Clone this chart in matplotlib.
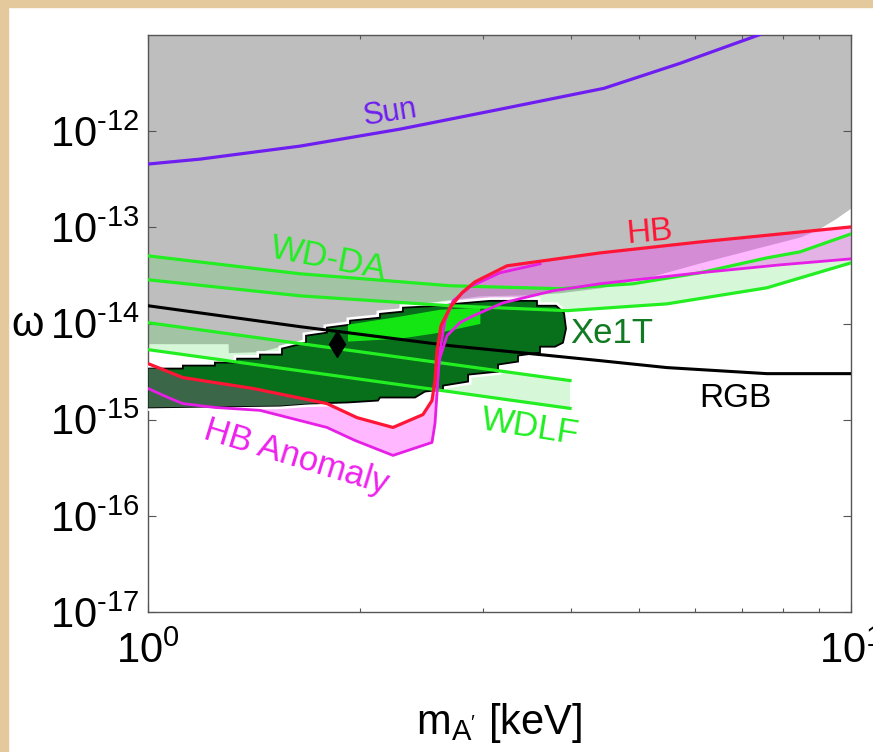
import numpy as np
import matplotlib
matplotlib.use('Agg')
import matplotlib.pyplot as plt
from matplotlib.patches import Polygon, Rectangle
from matplotlib.ticker import NullFormatter
import matplotlib.patheffects as pe

plt.rcParams['font.family'] = ['Liberation Sans', 'DejaVu Sans']
plt.rcParams['mathtext.fontset'] = 'custom'
plt.rcParams['mathtext.rm'] = 'Liberation Sans'
plt.rcParams['mathtext.it'] = 'Liberation Sans:italic'

# ---- data (m in keV, omega dimensionless) ----
sun_m = [1.0, 1.186, 1.645, 2.283, 3.168, 4.452, 5.71, 7.42]
sun_w = [4.55e-13, 5.12e-13, 6.99e-13, 1.05e-12, 1.69e-12, 2.79e-12, 5.07e-12, 1.01e-11]

# lower edge of grey excluded region
gray_m = [1.0, 1.300, 1.301, 1.443, 1.592, 1.757, 1.938, 2.124, 2.283, 2.437, 2.602, 2.967,
          3.494, 3.855, 4.395, 5.177, 6.098, 7.183, 8.463, 8.947, 9.49, 10.0]
gray_w = [6.17e-15, 6.17e-15, 4.98e-15, 5.10e-15, 6.17e-15, 7.65e-15, 9.95e-15, 1.23e-14,
          1.39e-14, 1.57e-14, 1.72e-14, 1.94e-14, 1.99e-14, 2.09e-14, 2.35e-14, 3.06e-14,
          4.27e-14, 5.83e-14, 7.95e-14, 9.40e-14, 1.22e-13, 1.59e-13]

wdda_up_m = [1.0, 1.645, 2.689, 3.855, 4.897, 6.098, 7.59, 8.463, 10.0]
wdda_up_w = [5.05e-14, 3.29e-14, 2.47e-14, 2.30e-14, 2.59e-14, 3.37e-14, 4.81e-14, 5.56e-14, 8.54e-14]
wdda_lo_m = [1.0, 1.645, 2.689, 3.945, 5.47, 7.59, 10.0]
wdda_lo_w = [2.85e-14, 1.94e-14, 1.53e-14, 1.36e-14, 1.60e-14, 2.35e-14, 4.27e-14]

wdlf_m = [1.0, 3.984]
wdlf_up_w = [1.02e-14, 2.55e-15]
wdlf_lo_w = [5.35e-15, 1.31e-15]

rgb_m = [1.0, 1.645, 2.689, 3.611, 4.395, 5.47, 7.59, 10.0]
rgb_w = [1.53e-14, 9.27e-15, 5.88e-15, 4.75e-15, 4.11e-15, 3.48e-15, 3.01e-15, 3.01e-15]

hb_m = [1.0, 1.121, 1.411, 1.797, 1.983, 2.231, 2.461, 2.535, 2.560, 2.577, 2.611, 2.689,
        2.797, 2.918, 3.241, 4.395, 6.098, 10.0]
hb_w = [3.83e-15, 2.74e-15, 2.11e-15, 1.47e-15, 1.05e-15, 8.30e-16, 1.13e-15, 1.58e-15,
        2.55e-15, 5.22e-15, 9.49e-15, 1.46e-14, 2.09e-14, 2.71e-14, 3.98e-14, 5.42e-14,
        7.05e-14, 1.01e-13]

anom_m = [1.0, 1.068, 1.121, 1.245, 1.443, 1.797, 1.970, 2.231, 2.535, 2.560, 2.577, 2.585,
          2.602, 2.663, 2.778, 2.899, 3.199, 3.768, 4.395, 6.098, 7.925, 10.0]
anom_w = [2.11e-15, 1.70e-15, 1.47e-15, 1.34e-15, 1.25e-15, 8.30e-16, 6.08e-16, 4.25e-16,
          5.80e-16, 9.13e-16, 1.87e-15, 3.24e-15, 4.42e-15, 7.47e-15, 1.02e-14, 1.20e-14,
          1.64e-14, 2.19e-14, 2.59e-14, 3.37e-14, 4.07e-14, 4.70e-14]
anom_in_m = [2.577, 2.602, 2.645, 2.716, 2.871, 3.168, 3.611]
anom_in_w = [2.01e-15, 5.22e-15, 1.07e-14, 1.72e-14, 2.41e-14, 3.37e-14, 4.17e-14]

xe_m = [1.0, 1.121, 1.121, 1.245, 1.245, 1.339, 1.339, 1.443, 1.443, 1.551, 1.551, 1.678,
        1.678, 1.797, 1.797, 1.938, 1.938, 2.138, 2.138, 2.305, 2.305, 2.602, 2.733, 3.066,
        3.575, 3.575, 3.805, 3.906, 3.932, 3.893, 3.793, 3.611, 3.611, 3.360, 3.360, 3.147,
        3.147, 2.853, 2.853, 2.628, 2.628, 2.477, 2.398, 2.138, 2.124, 1.925, 1.689, 1.541, 1.0]
xe_w = [3.40e-15, 3.40e-15, 3.65e-15, 3.65e-15, 3.92e-15, 3.92e-15, 4.31e-15, 4.31e-15,
        4.75e-15, 4.75e-15, 5.48e-15, 6.32e-15, 7.47e-15, 8.03e-15, 9.05e-15, 9.72e-15,
        1.07e-14, 1.15e-14, 1.26e-14, 1.33e-14, 1.46e-14, 1.53e-14, 1.60e-14, 1.72e-14,
        1.72e-14, 1.53e-14, 1.53e-14, 1.29e-14, 8.83e-15, 6.32e-15, 5.74e-15, 5.74e-15,
        4.98e-15, 4.64e-15, 4.02e-15, 3.74e-15, 3.16e-15, 2.94e-15, 2.49e-15, 2.26e-15,
        2.06e-15, 1.96e-15, 1.70e-15, 1.70e-15, 1.58e-15, 1.51e-15, 1.47e-15, 1.40e-15, 1.34e-15]
xe_in_m = [1.925, 2.283, 2.602, 2.97, 2.97, 2.602, 2.283, 1.925]
xe_in_w = [9.72e-15, 1.18e-14, 1.39e-14, 1.46e-14, 9.9e-15, 8.03e-15, 6.95e-15, 6.48e-15]
best_m, best_w = 1.857, 6.1e-15

xticks = [1, 10]
xticklabels = ['10$^{0}$', '10$^{1}$']
yticks = [1e-17, 1e-16, 1e-15, 1e-14, 1e-13, 1e-12]
yticklabels = ['10$^{\\text{-17}}$', '10$^{\\text{-16}}$', '10$^{\\text{-15}}$',
               '10$^{\\text{-14}}$', '10$^{\\text{-13}}$', '10$^{\\text{-12}}$']

fig = plt.figure(figsize=(8.73, 7.52), dpi=100)
fig.patches.append(Rectangle((0, 0), 8 / 873, 1, transform=fig.transFigure,
                             color='#e3c99b', zorder=0))
fig.patches.append(Rectangle((0, 1 - 7 / 752), 1, 7 / 752, transform=fig.transFigure,
                             color='#e3c99b', zorder=0))
ax = fig.add_axes([148 / 873, 1 - 612 / 752, 703 / 873, 577 / 752])
ax.set_xscale('log')
ax.set_yscale('log')
ax.set_xlim(1, 10)
ax.set_ylim(1e-17, 1e-11)

# grey excluded region
ax.fill_between(gray_m, gray_w, 1e-11, color='#bebebe', lw=0, zorder=1)

# bands
ax.fill(np.r_[wdda_up_m, wdda_lo_m[::-1]], np.r_[wdda_up_w, wdda_lo_w[::-1]],
        color='#33dd44', alpha=0.2, lw=0, zorder=2)
ax.fill(np.r_[wdlf_m, wdlf_m[::-1]], np.r_[wdlf_up_w, wdlf_lo_w[::-1]],
        color='#33dd44', alpha=0.2, lw=0, zorder=2)
ax.fill(np.r_[hb_m, anom_m[::-1]], np.r_[hb_w, anom_w[::-1]],
        color='#ff33ff', alpha=0.35, lw=0, zorder=3)

# Xe1T region
xe = Polygon(np.c_[xe_m, xe_w], closed=True, facecolor='#08701a', edgecolor='black',
             lw=1.3, zorder=4)
xe.set_path_effects([pe.Stroke(linewidth=5, foreground='white'), pe.Normal()])
ax.add_patch(xe)
clip = Polygon(np.c_[xe_m, xe_w], closed=True, transform=ax.transData)
slate = ax.fill_between(hb_m[:9], hb_w[:9], 1e-17, color='#3b6648', lw=0, zorder=4.5)
slate.set_clip_path(clip)
ax.fill(xe_in_m, xe_in_w, color='#14e614', lw=0, zorder=4.6)
ax.plot(best_m, best_w, marker='d', ms=13, color='black', zorder=9)

# lines
gkw = dict(color='#22ee22', lw=2.3, zorder=6)
ax.plot(wdda_up_m, wdda_up_w, **gkw)
ax.plot(wdda_lo_m, wdda_lo_w, **gkw)
ax.plot(wdlf_m, wdlf_up_w, **gkw)
ax.plot(wdlf_m, wdlf_lo_w, **gkw)
ax.plot(rgb_m, rgb_w, color='black', lw=2.2, zorder=6.5)
ax.plot(anom_m, anom_w, color='#e61ee6', lw=2.0, zorder=7)
ax.plot(anom_in_m, anom_in_w, color='#e61ee6', lw=2.0, zorder=7)
ax.plot(hb_m, hb_w, color='#ff1535', lw=2.3, zorder=7.5)
ax.plot(sun_m, sun_w, color='#6e1ef0', lw=2.3, zorder=7)

# labels
ax.text(2.209, 1.54e-12, 'Sun', color='#6e1ef0', fontsize=22, rotation=9,
        ha='center', va='center', zorder=10)
ax.text(5.177, 8.75e-14, 'HB', color='#ff1535', fontsize=24, rotation=5,
        ha='center', va='center', zorder=10)
ax.text(1.803, 4.70e-14, 'WD-DA', color='#22ee22', fontsize=25, rotation=-11,
        ha='center', va='center', zorder=10)
ax.text(4.571, 7.84e-15, 'Xe1T', color='#117a22', fontsize=25,
        ha='center', va='center', zorder=10)
ax.text(6.839, 1.66e-15, 'RGB', color='black', fontsize=24,
        ha='center', va='center', zorder=10)
ax.text(3.494, 8.30e-16, 'WDLF', color='#22ee22', fontsize=25, rotation=-9,
        ha='center', va='center', zorder=10)
ax.text(1.624, 4.06e-16, 'HB Anomaly', color='#ee22ee', fontsize=25, rotation=-17,
        ha='center', va='center', zorder=10)

ax.set_xticks(xticks)
ax.set_xticklabels(xticklabels)
ax.xaxis.set_minor_formatter(NullFormatter())
ax.set_yticks(yticks)
ax.set_yticklabels(yticklabels)
ax.yaxis.set_minor_formatter(NullFormatter())
ax.tick_params(which='both', direction='in', top=True, right=True, colors='#555555',
               labelcolor='black', labelsize=30, width=0.8)
ax.tick_params(which='major', length=6)
ax.tick_params(axis='x', which='major', pad=14)
ax.tick_params(axis='y', which='major', pad=6)
ax.tick_params(which='minor', length=3)
for s in ax.spines.values():
    s.set_color('#555555')
    s.set_linewidth(1.0)

ax.set_xlabel("m$_{\\text{A}'}$ [keV]", fontsize=30)
ax.xaxis.set_label_coords(0.5, -0.155)
ax.set_ylabel('ω', fontsize=30, rotation=0, va='center', ha='center')
ax.yaxis.set_label_coords(-0.171, 0.497)

fig.savefig('out.png', dpi=100)
